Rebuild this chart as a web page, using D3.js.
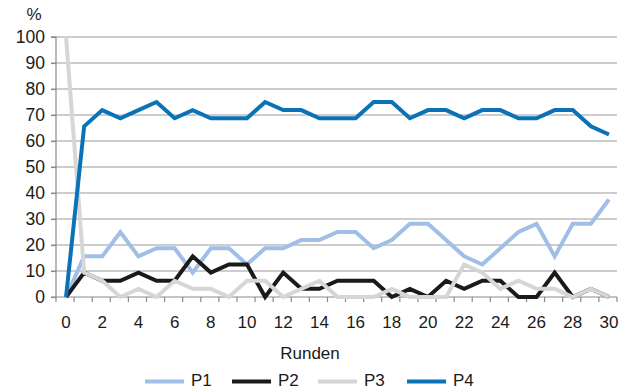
<!DOCTYPE html>
<html><head><meta charset="utf-8">
<script src="https://cdn.jsdelivr.net/npm/d3@7"></script>
<style>
html,body{margin:0;padding:0;background:#fff;}
text{font-family:"Liberation Sans",Arial,sans-serif;fill:#1a1a1a;}
</style></head>
<body><svg id="c" width="630" height="390"></svg>
<script>
const rounds = d3.range(0, 31);
const xTickLabels = [0,2,4,6,8,10,12,14,16,18,20,22,24,26,28,30];
const yTicks = [0,10,20,30,40,50,60,70,80,90,100];
const seriesNames = ["P1","P2","P3","P4"];
const seriesColors = ["#a0bfe6","#1a1a1a","#d6d6d6","#0a72b6"];
const p1 = [0,15.63,15.63,25,15.63,18.75,18.75,9.38,18.75,18.75,12.5,18.75,18.75,21.88,21.88,25,25,18.75,21.88,28.13,28.13,21.88,15.63,12.5,18.75,25,28.13,15.63,28.13,28.13,37.5];
const p2 = [0,9.38,6.25,6.25,9.38,6.25,6.25,15.63,9.38,12.5,12.5,0,9.38,3.13,3.13,6.25,6.25,6.25,0,3.13,0,6.25,3.13,6.25,6.25,0,0,9.38,0,3.13,0];
const p3 = [100,9.38,6.25,0,3.13,0,6.25,3.13,3.13,0,6.25,6.25,0,3.13,6.25,0,0,0,3.13,0,0,0,12.5,9.38,3.13,6.25,3.13,3.13,0,3.13,0];
const p4 = [0,65.63,71.88,68.75,71.88,75,68.75,71.88,68.75,68.75,68.75,75,71.88,71.88,68.75,68.75,68.75,75,75,68.75,71.88,71.88,68.75,71.88,71.88,68.75,68.75,71.88,71.88,65.63,62.5];
const seriesData = [p1,p2,p3,p4];

const svg = d3.select("#c");
const mLeft = 56, mRight = 617, mTop = 37, mBottom = 297;
const x = d3.scaleBand().domain(rounds).range([mLeft, mRight]);
const y = d3.scaleLinear().domain([0,100]).range([mBottom, mTop]);

// gridlines
svg.append("g").selectAll("line").data(yTicks.filter(d=>d>0)).join("line")
  .attr("x1", mLeft-5).attr("x2", mRight).attr("y1", d=>y(d)).attr("y2", d=>y(d))
  .attr("stroke", "#9c9c9c").attr("stroke-width", 1.2);

// y axis
const yAxis = svg.append("g").attr("transform", `translate(${mLeft},0)`)
  .call(d3.axisLeft(y).tickValues(yTicks).tickSize(5).tickFormat(d3.format("d")));
yAxis.select(".domain").attr("stroke","#8a8a8a").attr("stroke-width",1.2).attr("d", `M-5,${mTop}H0V${mBottom}`);
yAxis.selectAll(".tick line").attr("stroke","#8a8a8a").attr("stroke-width",1.2);
yAxis.selectAll(".tick text").attr("x",-11).attr("font-size","17.5px").attr("fill","#1a1a1a")
  .attr("font-family","'Liberation Sans',Arial,sans-serif");

// x axis: ticks at band boundaries
const xg = svg.append("g");
xg.append("line").attr("x1", mLeft-5).attr("x2", mRight).attr("y1", mBottom).attr("y2", mBottom)
  .attr("stroke","#8a8a8a").attr("stroke-width",1.2);
const boundaries = rounds.map(r => x(r)).concat([x(rounds[rounds.length-1]) + x.bandwidth()]);
xg.selectAll("line.t").data(boundaries).join("line").attr("class","t")
  .attr("x1", d=>d).attr("x2", d=>d).attr("y1", mBottom).attr("y2", mBottom+5)
  .attr("stroke","#8a8a8a").attr("stroke-width",1.2);
xg.selectAll("text").data(xTickLabels).join("text")
  .attr("x", d => x(d) + x.bandwidth()/2 + 1).attr("y", 328)
  .attr("text-anchor","middle").attr("font-size","17px").text(d=>d);

// lines
const line = d3.line().x((d,i) => x(rounds[i]) + x.bandwidth()/2 + 1).y(d => y(d));
seriesData.forEach((s, k) => {
  svg.append("path").datum(s).attr("d", line).attr("fill","none")
    .attr("stroke", seriesColors[k]).attr("stroke-width", 4);
});

// labels
svg.append("text").attr("x", 34).attr("y", 20).attr("text-anchor","middle").attr("font-size","17px").text("%");
svg.append("text").attr("x", 310).attr("y", 359).attr("text-anchor","middle").attr("font-size","17px").text("Runden");

// legend
const legX = [145, 232, 318, 407];
const lg = svg.append("g");
seriesNames.forEach((n, k) => {
  lg.append("line").attr("x1", legX[k]).attr("x2", legX[k]+39).attr("y1", 381.5).attr("y2", 381.5)
    .attr("stroke", seriesColors[k]).attr("stroke-width", 4);
  lg.append("text").attr("x", legX[k]+46).attr("y", 386).attr("font-size","17px").text(n);
});
</script></body></html>
